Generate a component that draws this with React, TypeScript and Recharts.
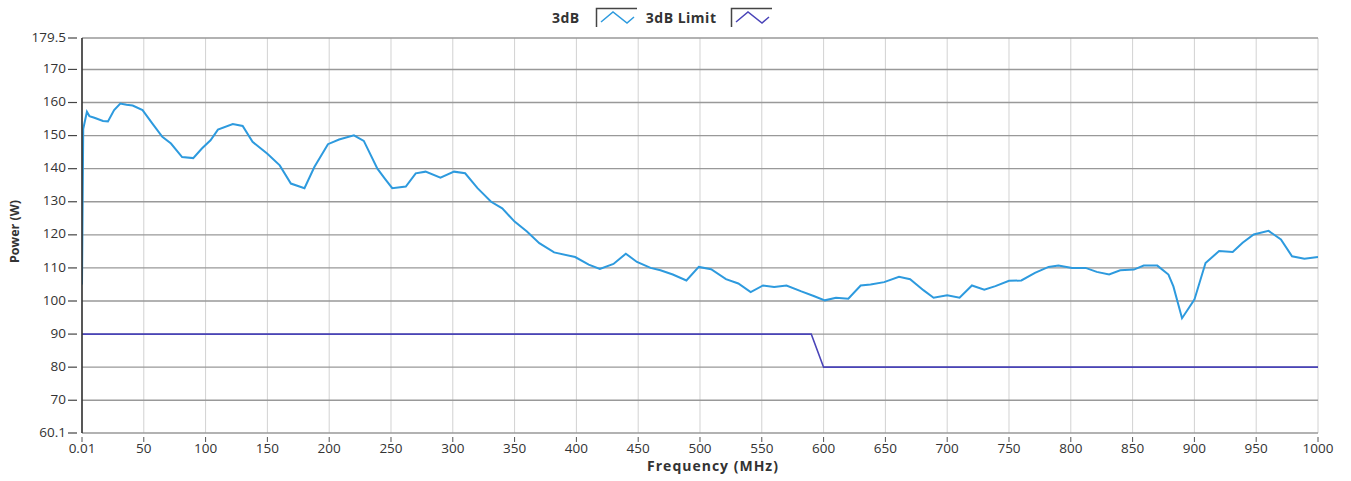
import { LineChart, Line, XAxis, YAxis, CartesianGrid, Label } from 'recharts'

const freqs = [
  0.01, 1, 4, 6, 10, 17, 21, 26, 31, 36, 41, 49, 57, 65, 72, 81, 90, 97, 104, 110,
  122, 130, 138, 150, 160, 169, 180, 188, 199, 208, 220, 228, 239, 245, 251, 262, 270, 278, 290, 301,
  310, 320, 331, 340, 350, 360, 370, 382, 399, 410, 419, 430, 440, 449, 460, 468, 478, 489, 499, 509,
  521, 531, 541, 551, 560, 570, 582, 592, 601, 610, 620, 630, 638, 649, 661, 670, 681, 689, 700, 710,
  720, 730, 739, 750, 760, 771, 782, 790, 801, 812, 821, 831, 840, 851, 859, 870, 879, 883, 890, 900,
  909, 920, 931, 939, 948, 960, 970, 979, 989, 1000,
]
const power = [
  105, 152, 157.2, 155.9, 155.4, 154.4, 154.3, 157.7, 159.7, 159.3, 159.1, 157.7, 153.6, 149.6, 147.6, 143.5, 143.2, 146.1, 148.6, 151.8,
  153.5, 152.9, 148.1, 144.5, 141, 135.5, 134.1, 140.5, 147.4, 148.8, 150.1, 148.4, 140, 137, 134.1, 134.6, 138.6, 139.1, 137.3, 139.1,
  138.6, 134.1, 130, 128, 124, 121, 117.5, 114.7, 113.3, 111, 109.7, 111.2, 114.3, 111.8, 110, 109.3, 108, 106.2, 110.3, 109.6,
  106.6, 105.3, 102.7, 104.7, 104.2, 104.7, 102.9, 101.5, 100.2, 101, 100.7, 104.7, 105, 105.7, 107.3, 106.6, 103.2, 101, 101.7, 101,
  104.7, 103.4, 104.5, 106.1, 106.2, 108.5, 110.3, 110.7, 110, 110, 108.8, 108, 109.3, 109.5, 110.7, 110.7, 108, 104.4, 94.8, 100.4,
  111.5, 115.1, 114.8, 117.6, 120.1, 121.2, 118.6, 113.5, 112.8, 113.3,
]

// limit curve
const limitFreqs = [0.01, 590, 600, 1000]
const limitPower = [90, 90, 80, 80]

const xTicks = [0.01, 50, 100, 150, 200, 250, 300, 350, 400, 450, 500, 550, 600, 650, 700, 750, 800, 850, 900, 950, 1000]
const yTicks = [60.1, 70, 80, 90, 100, 110, 120, 130, 140, 150, 160, 170, 179.5]

const measured = freqs.map((f, i) => ({ f, p: power[i] }))
const limit = limitFreqs.map((f, i) => ({ f, p: limitPower[i] }))

const FONT = '"Open Sans", "Noto Sans", sans-serif'
const BLUE = '#2d9ade'
const PURPLE = '#4a44b8'

function LegendIcon({ color }: { color: string }) {
  return (
    <svg width={42} height={20} style={{ display: 'block' }}>
      <path d="M1.5 20 V1.5 H42" fill="none" stroke="#444" strokeWidth={1.5} />
      <polyline points="6,15 18,5 32,16 39,10" fill="none" stroke={color} strokeWidth={1.5} />
    </svg>
  )
}

// x tick: small mark detached from the plot, label under it
function XTick({ x, y, payload }: any) {
  return (
    <g>
      <line x1={x} x2={x} y1={y + 4} y2={y + 9} stroke="#555" strokeWidth={1} />
      <text x={x} y={y + 16} textAnchor="middle" dominantBaseline="middle" fontFamily={FONT} fontSize={13.5} fill="#333">
        {payload.value}
      </text>
    </g>
  )
}

// y tick: dash with a gap before the axis line
function YTick({ x, y, payload }: any) {
  return (
    <g>
      <line x1={x - 14} x2={x - 5} y1={y} y2={y} stroke="#444" strokeWidth={1.2} />
      <text x={x - 16} y={y} textAnchor="end" dominantBaseline="middle" fontFamily={FONT} fontSize={13.5} fill="#333">
        {payload.value}
      </text>
    </g>
  )
}

export default function App() {
  const legendText = { fontFamily: FONT, fontSize: 14, fontWeight: 700, color: '#333', letterSpacing: 0.5 }
  return (
    <div style={{ position: 'absolute', left: 0, top: 0, width: 1351, height: 481, background: '#fff' }}>
      <div style={{ position: 'absolute', left: 552, top: 7, height: 20, display: 'flex', alignItems: 'center' }}>
        <span style={legendText}>3dB</span>
        <span style={{ marginLeft: 15 }}><LegendIcon color={BLUE} /></span>
        <span style={{ ...legendText, marginLeft: 9 }}>3dB Limit</span>
        <span style={{ marginLeft: 14 }}><LegendIcon color={PURPLE} /></span>
      </div>
      <LineChart width={1351} height={481} margin={{ top: 38, right: 33, bottom: 8, left: 0 }}>
        <CartesianGrid horizontal={false} stroke="#d2d2d2" strokeWidth={1} />
        <CartesianGrid vertical={false} stroke="#999" strokeWidth={1.4} />
        <XAxis
          type="number"
          dataKey="f"
          domain={[0.01, 1000]}
          ticks={xTicks}
          interval={0}
          allowDataOverflow
          axisLine={false}
          tickLine={false}
          tickSize={0}
          tickMargin={0}
          tick={<XTick />}
          height={40}
        >
          <Label
            content={({ viewBox }: any) => (
              <text
                x={viewBox.x + viewBox.width / 2 + 13}
                y={viewBox.y + 34}
                textAnchor="middle"
                dominantBaseline="middle"
                fontFamily={FONT}
                fontSize={14}
                fontWeight={700}
                letterSpacing={1}
                fill="#333"
              >
                Frequency (MHz)
              </text>
            )}
          />
        </XAxis>
        <YAxis
          type="number"
          domain={[60.1, 179.5]}
          ticks={yTicks}
          interval={0}
          allowDataOverflow
          width={82}
          axisLine={{ stroke: '#333', strokeWidth: 1.6 }}
          tickLine={false}
          tickSize={0}
          tickMargin={0}
          tick={<YTick />}
        >
          <Label
            content={({ viewBox }: any) => {
              const cx = viewBox.x + 16
              const cy = viewBox.y + viewBox.height / 2 - 4
              return (
                <text
                  x={cx}
                  y={cy}
                  transform={`rotate(-90 ${cx} ${cy})`}
                  textAnchor="middle"
                  dominantBaseline="middle"
                  fontFamily={FONT}
                  fontSize={12.5}
                  fontWeight={700}
                  fill="#333"
                >
                  Power (W)
                </text>
              )
            }}
          />
        </YAxis>
        <Line
          data={limit}
          dataKey="p"
          type="linear"
          stroke={PURPLE}
          strokeWidth={1.6}
          dot={false}
          isAnimationActive={false}
        />
        <Line
          data={measured}
          dataKey="p"
          type="linear"
          stroke={BLUE}
          strokeWidth={2}
          dot={false}
          isAnimationActive={false}
        />
      </LineChart>
    </div>
  )
}
